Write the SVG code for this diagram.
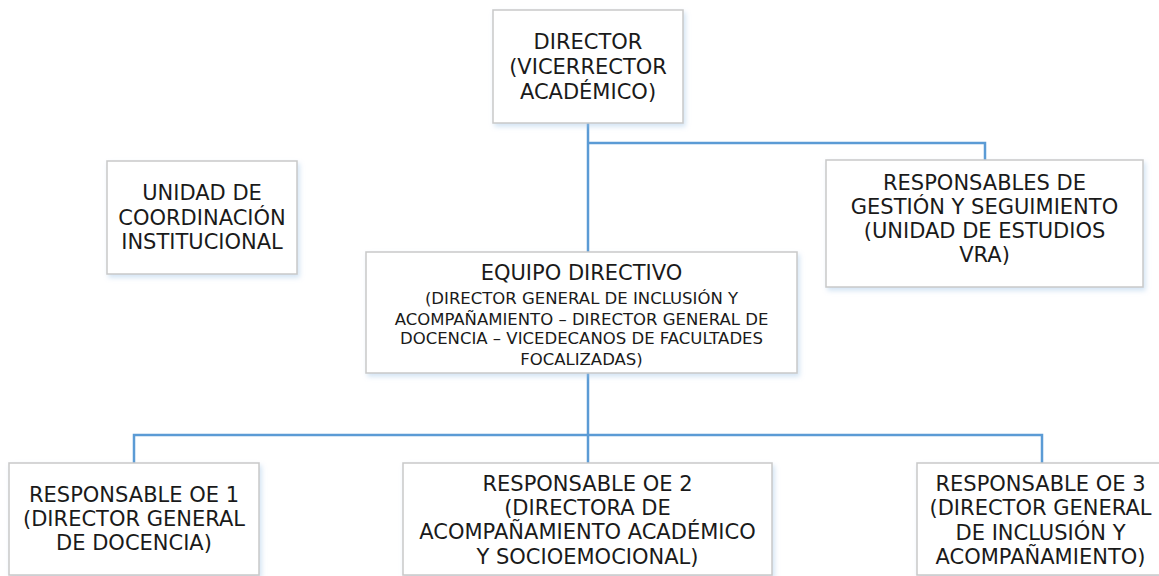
<svg xmlns="http://www.w3.org/2000/svg" width="1159" height="576" viewBox="0 0 1159 576">
<style>
.box{fill:#ffffff;stroke:#c9c9c9;stroke-width:1.5;filter:url(#sh)}
.t{font-family:"DejaVu Sans",Verdana,sans-serif;font-size:21px;fill:#1a1a1a;text-anchor:middle}
.s{font-size:16.5px}
.c{fill:none;stroke:#5b9bd5;stroke-width:2.5}
</style>
<defs>
<filter id="sh" x="-10%" y="-10%" width="120%" height="130%">
<feDropShadow dx="2" dy="3" stdDeviation="2.5" flood-color="#9dc3e6" flood-opacity="0.45"/>
</filter>
</defs>
<rect width="1159" height="576" fill="#ffffff"/>
<g id="connectors">
<path class="c" d="M588,123 V252 M588,143 H985 V160"/>
<path class="c" d="M588,373 V463 M134,463 V435 H1042 V463"/>
</g>
<g id="director">
<rect class="box" x="493" y="10" width="190" height="113"/>
<text class="t"><tspan x="588" y="48.5">DIRECTOR</tspan><tspan x="588" y="73.5">(VICERRECTOR</tspan><tspan x="588" y="98.5">ACADÉMICO)</tspan></text>
</g>
<g id="unidad">
<rect class="box" x="107" y="161" width="190" height="113"/>
<text class="t"><tspan x="202" y="200">UNIDAD DE</tspan><tspan x="202" y="224.5">COORDINACIÓN</tspan><tspan x="202" y="249">INSTITUCIONAL</tspan></text>
</g>
<g id="gestion">
<rect class="box" x="826" y="160" width="317" height="127"/>
<text class="t"><tspan x="984.5" y="189.5">RESPONSABLES DE</tspan><tspan x="984.5" y="213.5">GESTIÓN Y SEGUIMIENTO</tspan><tspan x="984.5" y="237.5">(UNIDAD DE ESTUDIOS</tspan><tspan x="984.5" y="261.5">VRA)</tspan></text>
</g>
<g id="equipo">
<rect class="box" x="366" y="252" width="431" height="121"/>
<text class="t"><tspan x="581.5" y="279.5">EQUIPO DIRECTIVO</tspan></text>
<text class="t s"><tspan x="581.5" y="303.5">(DIRECTOR GENERAL DE INCLUSIÓN Y</tspan><tspan x="581.5" y="325">ACOMPAÑAMIENTO – DIRECTOR GENERAL DE</tspan><tspan x="581.5" y="343.5">DOCENCIA – VICEDECANOS DE FACULTADES</tspan><tspan x="581.5" y="365">FOCALIZADAS)</tspan></text>
</g>
<g id="oe1">
<rect class="box" x="9" y="463" width="250" height="112"/>
<text class="t"><tspan x="134" y="501.5">RESPONSABLE OE 1</tspan><tspan x="134" y="526">(DIRECTOR GENERAL</tspan><tspan x="134" y="550">DE DOCENCIA)</tspan></text>
</g>
<g id="oe2">
<rect class="box" x="403" y="463" width="369" height="112"/>
<text class="t"><tspan x="587.5" y="490.5">RESPONSABLE OE 2</tspan><tspan x="587.5" y="515">(DIRECTORA DE</tspan><tspan x="587.5" y="539">ACOMPAÑAMIENTO ACADÉMICO</tspan><tspan x="587.5" y="563.5">Y SOCIOEMOCIONAL)</tspan></text>
</g>
<g id="oe3">
<rect class="box" x="917" y="463" width="250" height="112"/>
<text class="t"><tspan x="1040.5" y="490.5">RESPONSABLE OE 3</tspan><tspan x="1040.5" y="515">(DIRECTOR GENERAL</tspan><tspan x="1040.5" y="539.5">DE INCLUSIÓN Y</tspan><tspan x="1040.5" y="563.5">ACOMPAÑAMIENTO)</tspan></text>
</g>
</svg>
